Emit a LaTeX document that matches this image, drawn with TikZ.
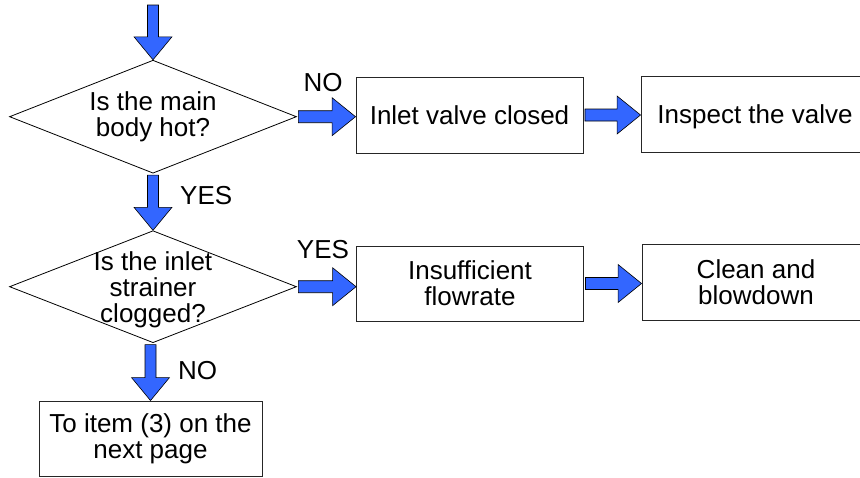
\documentclass[tikz,border=0pt]{standalone}
\usepackage{fontspec}
\setmainfont{Liberation Sans}
\usetikzlibrary{shapes.geometric,calc}
\definecolor{arrowblue}{RGB}{51,102,255}
\newcommand\blkdown[2]{\filldraw[barrow] let \p1=(#1), \p2=(#2) in
 (\x2-5.5pt,\y1-1.5pt) -- (\x2+5.5pt,\y1-1.5pt) -- (\x2+5.5pt,\y2+23pt) -- (\x2+19pt,\y2+23pt) -- (\x2,\y2) -- (\x2-19pt,\y2+23pt) -- (\x2-5.5pt,\y2+23pt) -- cycle;}
\newcommand\blkright[2]{\filldraw[barrow] let \p1=(#1), \p2=(#2) in
 (\x1+1.5pt,\y1+6pt) -- (\x2-23.5pt,\y1+6pt) -- (\x2-23.5pt,\y1+19pt) -- (\x2,\y1) -- (\x2-23.5pt,\y1-19pt) -- (\x2-23.5pt,\y1-6pt) -- (\x1+1.5pt,\y1-6pt) -- cycle;}
\begin{document}
\begin{tikzpicture}[x=1pt,y=-1pt,
  every node/.style={font=\fontsize{26}{26}\selectfont},
  dia/.style={draw=black,line width=0.8pt,diamond,inner sep=0pt,minimum width=287pt,minimum height=113pt},
  bx/.style={draw=black!85,line width=0.9pt,rectangle,inner sep=0pt,minimum width=227pt,minimum height=76pt,align=center},
  dtext/.style={inner sep=0pt,align=center},
  lbl/.style={inner sep=0pt},
  barrow/.style={fill=arrowblue,draw=black,line width=0.6pt,line join=miter}]
\useasboundingbox (0,0) rectangle (860,477);
\clip (0,0) rectangle (860,477);
\fill[white] (0,0) rectangle (860,477);
% decisions
\node[dia] (d1) at (153,116.7) {};
\node[dtext] (t1) at (153,117) {Is the main\\body hot?};
\node[dia,minimum height=112pt] (d2) at (153,286.7) {};
\node[dtext] (t2) at (153,290) {Is the inlet\\strainer\\clogged?};
% boxes
\node[bx] (b1) at (469.5,115) {Inlet valve closed};
\node[bx,minimum width=228pt,text depth=0pt] (b2) at (755,114) {Inspect the valve};
\node[bx,minimum height=75pt] (b3) at (470,283.5) {Insufficient\\flowrate};
\node[bx,minimum width=228pt] (b4) at (756,282.5) {Clean and\\blowdown};
\node[bx,minimum width=223pt,minimum height=75pt] (b5) at (150.5,438.5) {To item (3) on the\\next page};
% labels
\node[lbl] (l1) at (323,83) {NO};
\node[lbl,anchor=west] (l2) at (180,196) {YES};
\node[lbl] (l3) at (323,250) {YES};
\node[lbl,anchor=west] (l4) at (178,370.5) {NO};
% arrows
\coordinate (start) at (153,3.5);
\blkdown{start}{d1.north}
\blkdown{d1.south}{d2.north}
\blkdown{d2.south}{b5.north}
\blkright{d1.east}{b1.west}
\blkright{b1.east}{b2.west}
\blkright{d2.east}{b3.west}
\blkright{b3.east}{b4.west}
\end{tikzpicture}
\end{document}
